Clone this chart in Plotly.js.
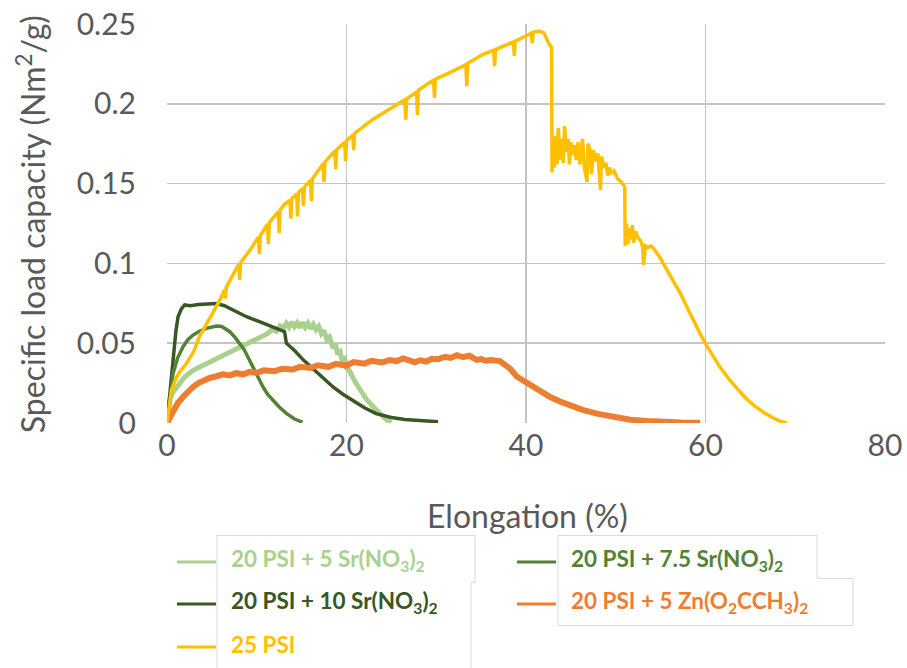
<!DOCTYPE html>
<html>
<head>
<meta charset="utf-8">
<script src="https://cdn.plot.ly/plotly-3.0.1.min.js"></script>
<style>html,body{margin:0;padding:0;background:#fff;}#chart{width:907px;height:668px;}</style>
</head>
<body>
<div id="chart"></div>
<script>
// ---- Data ----
const seriesNames = [
  "20 PSI + 5 Sr(NO<sub>3</sub>)<sub>2</sub>",
  "20 PSI + 7.5 Sr(NO<sub>3</sub>)<sub>2</sub>",
  "20 PSI + 10 Sr(NO<sub>3</sub>)<sub>2</sub>",
  "20 PSI + 5 Zn(O<sub>2</sub>CCH<sub>3</sub>)<sub>2</sub>",
  "25 PSI"
];
const seriesColors = ["#A9D18E", "#548235", "#385723", "#ED7D31", "#FFC000"];
const xAxisTitle = "Elongation (%)";
const yAxisTitle = "Specific load capacity (Nm<sup>2</sup>/g)";

const sr5X = [0,0.3,0.6,1.05,1.5,2.0,2.9,3.8,4.8,5.7,6.6,7.5,8.5,9.4,10.3,11.2,11.7,12.2,12.6,13.0,13.3,13.6,13.9,14.2,14.5,14.8,15.1,15.4,15.7,16.0,16.3,16.6,16.9,17.2,17.5,17.8,18.1,18.5,18.8,19.0,19.3,19.5,19.8,20.0,20.3,20.5,20.8,21.0,21.5,22.2,23.0,23.8,24.5,25.0];
const sr5Y = [0,0.014,0.019,0.0226,0.026,0.029,0.033,0.0355,0.0385,0.041,0.0436,0.046,0.0488,0.051,0.054,0.056,0.0585,0.0575,0.061,0.0595,0.0625,0.0600,0.0632,0.0605,0.0628,0.0598,0.0630,0.0600,0.0625,0.0592,0.0618,0.0585,0.0605,0.0560,0.0580,0.0525,0.0540,0.0470,0.0490,0.0430,0.0445,0.0395,0.0405,0.0345,0.0330,0.0300,0.0275,0.0255,0.0205,0.0150,0.0100,0.0050,0.0017,0.0003];

const sr75X = [0,0.3,0.67,1.2,1.78,2.3,2.9,3.6,4.4,5.0,5.5,6.1,6.6,7.0,7.6,8.1,8.6,9.0,9.4,9.8,10.2,10.7,11.2,11.8,12.5,13.3,14.2,15.1];
const sr75Y = [0,0.012,0.031,0.041,0.0477,0.052,0.0551,0.0575,0.0593,0.0603,0.0607,0.0605,0.059,0.0572,0.0535,0.0499,0.046,0.0415,0.037,0.032,0.027,0.0226,0.018,0.0143,0.010,0.006,0.0025,0.0005];

const sr10X = [0,0.3,0.67,1.0,1.23,1.6,1.97,2.6,3.5,4.5,5.5,6.4,7.5,8.85,10.3,11.8,13.1,13.3,14.2,15.2,16.65,17.5,18.5,19.6,20.7,22.0,23.3,25.0,26.5,28.2,30.2];
const sr10Y = [0,0.018,0.0415,0.058,0.0666,0.0715,0.074,0.0735,0.0742,0.0745,0.0748,0.0735,0.0705,0.0666,0.0635,0.0603,0.0572,0.0500,0.0455,0.0394,0.032,0.027,0.0226,0.018,0.0143,0.0095,0.0059,0.0035,0.0022,0.0014,0.0008];

const znX = [0,0.67,1.2,1.78,2.3,2.9,3.5,4.0,4.7,5.5,6.2,7.0,7.7,8.5,9.2,10,10.8,12,12.8,14,14.8,16,16.8,18,18.8,20,20.8,22,22.8,24,24.8,25.6,26.3,27,27.6,28.2,28.9,29.5,30.2,31,31.6,32.3,33,33.7,34.2,34.5,35.0,35.5,36.1,36.7,37.1,37.5,38.2,39,39.7,40.4,41.5,42.7,43.8,44.9,46.3,47.9,49.7,51.6,53.5,55.3,57.3,59.4];
const znY = [0,0.008,0.0125,0.0163,0.0196,0.0226,0.025,0.0268,0.0282,0.0293,0.0305,0.0298,0.0312,0.0305,0.0320,0.0315,0.0330,0.0325,0.0340,0.0335,0.0352,0.0345,0.0362,0.0352,0.0370,0.0360,0.0382,0.0372,0.0390,0.0380,0.0395,0.0388,0.0405,0.0392,0.0380,0.0393,0.0385,0.0402,0.0400,0.0415,0.0408,0.0425,0.0412,0.0422,0.0408,0.0395,0.0400,0.039,0.0395,0.0385,0.0388,0.037,0.0342,0.029,0.0265,0.0247,0.0205,0.0163,0.0135,0.0111,0.0082,0.0059,0.0037,0.0021,0.0012,0.0006,0.0003,0.0002];

const psi25X = [0,0.49,1.0,1.42,2.16,3.0,3.6,4.3,5.1,5.8,6.4,6.5,6.6,7.2,8.0,8.1,8.2,9.2,10.2,10.3,10.4,11.2,11.3,11.4,12.4,12.5,12.6,13.1,13.7,13.8,13.9,14.45,14.55,14.65,15.1,15.2,15.3,16.0,16.1,16.2,17.4,17.5,17.6,18.7,18.8,18.9,19.8,19.9,20.0,20.7,20.8,20.9,22.0,23.0,24.1,25.3,26.5,26.6,26.7,27.8,27.9,28.0,29.7,29.8,29.9,31.5,33.3,33.4,33.5,35.2,36.4,36.5,36.6,37.6,38.6,38.7,38.8,39.6,40.6,40.7,40.8,41.5,42.0,42.5,42.85,
  42.9,43.0,43.15,43.3,43.45,43.6,43.8,44.0,44.15,44.3,44.5,44.7,44.85,45.0,45.2,45.4,45.6,45.8,46.0,46.3,46.5,46.8,46.9,47.1,47.3,47.5,47.8,48.0,48.3,48.4,48.7,48.9,49.1,49.3,49.5,49.8,50.2,50.6,51.0,51.05,51.2,51.35,51.5,51.7,51.85,52.0,52.2,52.5,52.8,53.0,53.1,53.3,53.6,53.9,54.2,55.0,55.7,56.4,57.2,57.9,58.6,59.4,60.1,60.8,61.6,62.7,63.6,64.5,65.5,66.5,67.5,68.3,69.1];
const psi25Y = [0,0.0205,0.028,0.032,0.0373,0.045,0.054,0.061,0.0687,0.076,0.0833,0.078,0.085,0.091,0.0995,0.0897,0.1005,0.108,0.1165,0.106,0.1175,0.1245,0.112,0.1255,0.1325,0.119,0.1335,0.137,0.1395,0.128,0.1405,0.1435,0.1295,0.1445,0.1468,0.136,0.1478,0.152,0.139,0.153,0.1625,0.151,0.1635,0.1705,0.159,0.1712,0.1758,0.164,0.1768,0.1805,0.171,0.1815,0.186,0.1905,0.1943,0.1985,0.2025,0.190,0.203,0.2075,0.193,0.2085,0.215,0.2038,0.2155,0.2195,0.2245,0.211,0.2252,0.231,0.2335,0.2236,0.234,0.2365,0.2388,0.230,0.2392,0.2415,0.2443,0.238,0.2448,0.2456,0.2445,0.2383,0.2352,
  0.157,0.175,0.160,0.180,0.162,0.185,0.165,0.178,0.163,0.186,0.170,0.178,0.162,0.176,0.168,0.174,0.165,0.176,0.162,0.178,0.160,0.151,0.175,0.172,0.156,0.171,0.164,0.169,0.146,0.167,0.160,0.163,0.155,0.160,0.157,0.158,0.153,0.151,0.148,0.111,0.125,0.112,0.122,0.115,0.124,0.113,0.120,0.116,0.114,0.110,0.099,0.111,0.110,0.111,0.1095,0.103,0.0959,0.089,0.0813,0.073,0.0645,0.056,0.0488,0.042,0.0352,0.0268,0.021,0.0155,0.0105,0.0065,0.0033,0.0012,0];

const xTicks = [0,20,40,60,80];
const yTicks = [0,0.05,0.1,0.15,0.2,0.25];

// ---- Traces ----
const seriesX = [sr5X, sr75X, sr10X, znX, psi25X];
const seriesY = [sr5Y, sr75Y, sr10Y, znY, psi25Y];
const widths = [5, 3.5, 3.5, 6, 3.5];
const drawOrder = [0, 2, 1, 3, 4];
const traces = drawOrder.map(i => ({
  type: 'scatter', mode: 'lines', x: seriesX[i], y: seriesY[i], name: seriesNames[i],
  line: {color: seriesColors[i], width: widths[i]}, showlegend: false, hoverinfo: 'skip'
}));

// ---- Layout helpers (pixel -> paper) ----
const W = 907, H = 668, L = 167, R = 22, T = 24, B = 245.3;
const pw = W - L - R, ph = H - T - B;
const px = v => (v - L) / pw;
const py = v => (H - B - v) / ph;
const font = 'Lato, "Open Sans", sans-serif';

// Manual legend: [seriesIndex, column, row]
const legendPos = [[0,0,0],[1,1,0],[2,0,1],[3,1,1],[4,0,2]];
const colLineX = [177, 517];
const rowY = [561.5, 603.5, 646.5];
const shapes = [];
const annotations = [];
legendPos.forEach(([i, c, r]) => {
  shapes.push({type:'line', xref:'paper', yref:'paper', x0: px(colLineX[c]), x1: px(colLineX[c] + 39),
    y0: py(rowY[r]), y1: py(rowY[r]), line:{color: seriesColors[i], width: 3}});
  annotations.push({xref:'paper', yref:'paper', x: px(colLineX[c] + 52), y: py(rowY[r] - 2),
    xanchor:'left', yanchor:'middle', showarrow:false, text: '<b>' + seriesNames[i] + '</b>',
    font:{family: font, size: 22.5, color: seriesColors[i]}});
});
// legend box outlines
const pathFrom = pts => 'M' + pts.map(p => px(p[0]) + ',' + py(p[1])).join(' L');
shapes.push({type:'path', xref:'paper', yref:'paper', layer:'below',
  path: pathFrom([[217,668],[217,535],[475,535],[475,582],[471,582],[471,668]]),
  line:{color:'#D9D9D9', width:1}});
shapes.push({type:'path', xref:'paper', yref:'paper', layer:'below',
  path: pathFrom([[558,535],[817,535],[817,578],[853,578],[853,625],[558,625]]) + ' Z',
  line:{color:'#D9D9D9', width:1}});

// axis titles
annotations.push({xref:'paper', yref:'paper', x: px(527), y: py(515), xanchor:'center', yanchor:'middle',
  showarrow:false, text: xAxisTitle, font:{family: font, size: 32, color:'#595959'}});
annotations.push({xref:'paper', yref:'paper', x: px(31), y: py(224), xanchor:'center', yanchor:'middle',
  showarrow:false, textangle:-90, text: yAxisTitle, font:{family: font, size: 32, color:'#595959'}});

const layout = {
  width: W, height: H,
  margin: {l: L, r: R, t: T, b: B},
  paper_bgcolor: '#fff', plot_bgcolor: '#fff',
  showlegend: false,
  xaxis: {
    range: [0, 80], tickvals: xTicks, ticktext: xTicks.map(String),
    showgrid: true, gridcolor: '#C4C4C4', gridwidth: 1.5, zeroline: false, showline: false,
    ticks: '', ticklabelstandoff: 2, tickfont: {family: font, size: 30, color: '#595959'},
    fixedrange: true
  },
  yaxis: {
    range: [0, 0.25], tickvals: yTicks, ticktext: yTicks.map(String),
    showgrid: true, gridcolor: '#C4C4C4', gridwidth: 1.5, zeroline: false, showline: false,
    ticks: '', ticklabelstandoff: 30, tickfont: {family: font, size: 30, color: '#595959'},
    fixedrange: true
  },
  shapes: shapes,
  annotations: annotations
};

Plotly.newPlot('chart', traces, layout, {displayModeBar: false, staticPlot: true});
</script>
</body>
</html>
